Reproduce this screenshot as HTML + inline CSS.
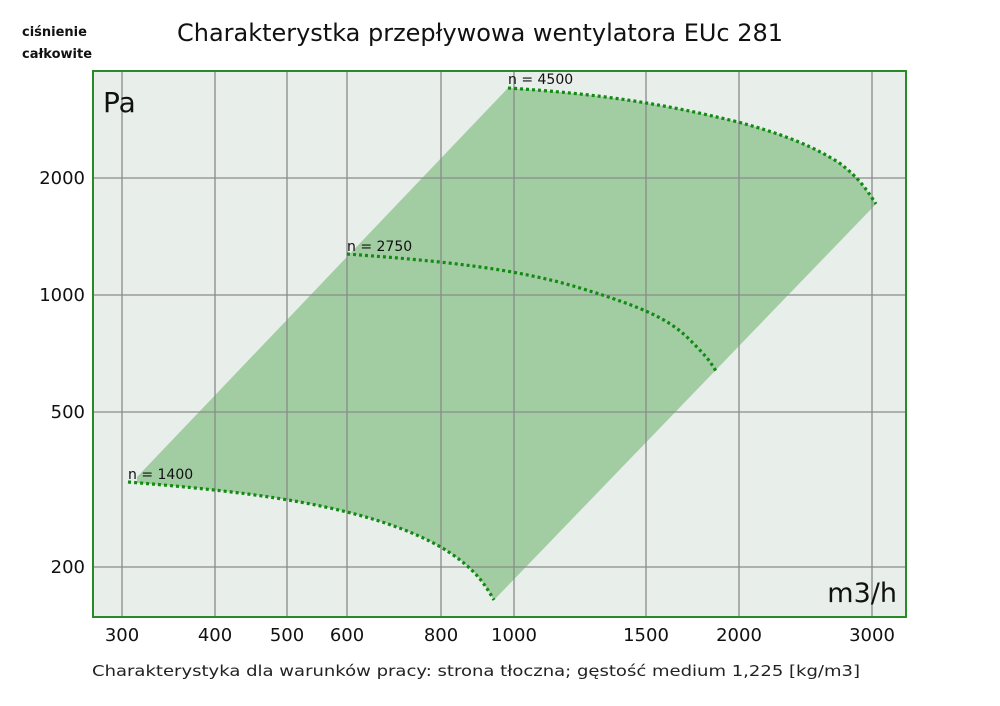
<!DOCTYPE html>
<html><head><meta charset="utf-8"><style>
body{margin:0;background:#fff;}
svg{display:block;font-family:"DejaVu Sans","Liberation Sans",sans-serif;}
</style></head><body>
<svg width="1000" height="706" viewBox="0 0 1000 706" xmlns="http://www.w3.org/2000/svg">
<rect x="93" y="71" width="813" height="546" fill="#e8eee9"/>
<path d="M137,477 L508,88 C600,94 660,103 738,122 C790,136 815,148 838,162 C860,178 868,192 876,204 L494,600 C485,585 479,575 460,560 C441,545 407,527 347,512 C287,497 215,489 137,483 Z" fill="#a2cda3"/>
<g stroke="#8a8a8a" stroke-width="1.3" fill="none">
<line x1="122" y1="71" x2="122" y2="617"/>
<line x1="215" y1="71" x2="215" y2="617"/>
<line x1="287" y1="71" x2="287" y2="617"/>
<line x1="347" y1="71" x2="347" y2="617"/>
<line x1="441" y1="71" x2="441" y2="617"/>
<line x1="514" y1="71" x2="514" y2="617"/>
<line x1="646" y1="71" x2="646" y2="617"/>
<line x1="739" y1="71" x2="739" y2="617"/>
<line x1="872" y1="71" x2="872" y2="617"/>
<line x1="93" y1="178" x2="906" y2="178"/>
<line x1="93" y1="295" x2="906" y2="295"/>
<line x1="93" y1="412" x2="906" y2="412"/>
<line x1="93" y1="567" x2="906" y2="567"/>
</g>
<rect x="93" y="71" width="813" height="546" fill="none" stroke="#2a8a2a" stroke-width="2"/>
<g stroke="#138a13" stroke-width="3.2" fill="none" stroke-dasharray="3,3">
<path d="M128,482 C215,489 287,497 347,512 C407,527 441,545 460,560 C479,575 485,585 494,600"/>
<path d="M347,254 C441,261 514,268 580,288 S670,320 690,340 S710,362 716,371"/>
<path d="M508,88 C600,94 660,103 738,122 C790,136 815,148 838,162 C860,178 868,192 876,204"/>
</g>
<g fill="#111" font-size="14">
<text x="128" y="479">n = 1400</text>
<text x="347" y="251">n = 2750</text>
<text x="508" y="84">n = 4500</text>
</g>
<text x="103" y="112" font-size="28" fill="#111">Pa</text>
<text x="897" y="602" font-size="27" fill="#111" text-anchor="end">m3/h</text>
<g font-size="18" fill="#111" text-anchor="end">
<text x="85" y="184">2000</text>
<text x="85" y="301">1000</text>
<text x="85" y="418">500</text>
<text x="85" y="573">200</text>
</g>
<g font-size="18" fill="#111" text-anchor="middle">
<text x="122" y="641">300</text>
<text x="215" y="641">400</text>
<text x="287" y="641">500</text>
<text x="347" y="641">600</text>
<text x="441" y="641">800</text>
<text x="514" y="641">1000</text>
<text x="646" y="641">1500</text>
<text x="739" y="641">2000</text>
<text x="872" y="641">3000</text>
</g>
<text x="177" y="41" font-size="24" fill="#111" textLength="606" lengthAdjust="spacingAndGlyphs">Charakterystka przepływowa wentylatora EUc 281</text>
<text x="22" y="36" font-size="13" font-weight="bold" fill="#111">ciśnienie</text>
<text x="22" y="58" font-size="13" font-weight="bold" fill="#111">całkowite</text>
<text x="92" y="676" font-size="15" fill="#222" textLength="768" lengthAdjust="spacingAndGlyphs">Charakterystyka dla warunków pracy: strona tłoczna; gęstość medium 1,225 [kg/m3]</text>
</svg>
</body></html>
